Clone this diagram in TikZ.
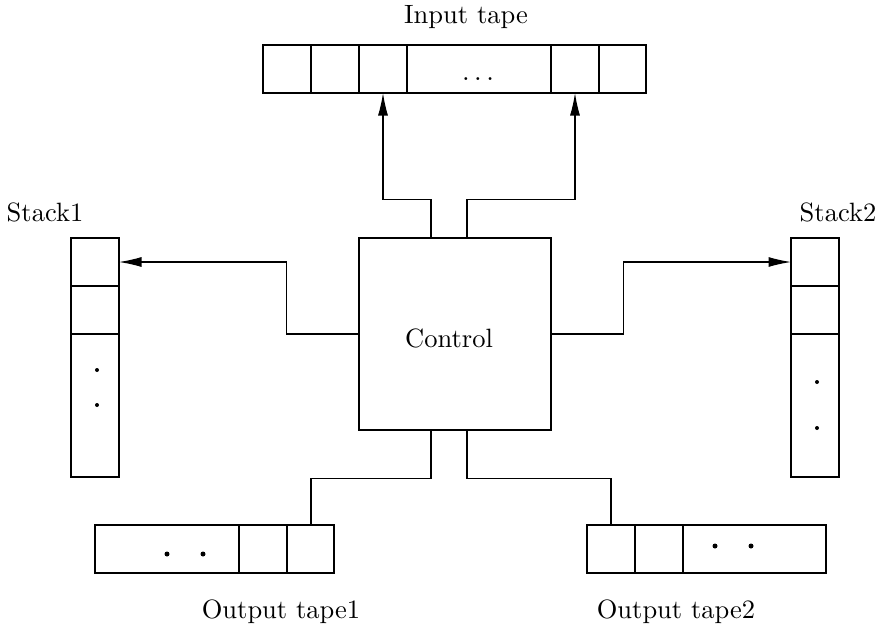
\documentclass[tikz,border=0pt]{standalone}
\usetikzlibrary{arrows.meta}
\begin{document}
\begin{tikzpicture}[x=0.4pt,y=-0.4pt,
  every node/.style={font=\fontsize{10.6}{13}\selectfont},
  box/.style={draw,line width=0.45pt,inner sep=0pt,rectangle},
  wire/.style={draw,line width=0.45pt},
  arr/.style={wire,-{Latex[length=9pt,width=4pt]}},
  dot/.style={fill,circle,inner sep=0pt,minimum size=1.6pt},
  lbl/.style={inner sep=0pt}]
\useasboundingbox (0,0) rectangle (880,634);

% control unit
\node[box,minimum width=76.8pt,minimum height=76.8pt] (ctl) at (455,334) {};
\node[lbl] (ctltxt) at (449,338) {Control};

% input tape
\node[box,minimum width=153.2pt,minimum height=19.2pt] (in) at (454.5,69) {};
\foreach \x in {311,359,407,551,599} \draw[line width=0.45pt] (\x,45) -- (\x,93);
\node[lbl] (indots) at (478,79) {$\ldots$};
\node[lbl] (intxt) at (466,17) {Input tape};
\coordinate (inA) at (383,93);
\coordinate (inB) at (575,93);

% stack 1
\node[box,minimum width=19.2pt,minimum height=95.6pt] (s1) at (95,357.5) {};
\foreach \y in {286,334} \draw[line width=0.45pt] (71,\y) -- (119,\y);
\node[dot] (s1d1) at (97,370) {};
\node[dot] (s1d2) at (97,405) {};
\node[lbl] (s1txt) at (45,212) {Stack1};
\coordinate (s1A) at (119,262);

% stack 2
\node[box,minimum width=19.2pt,minimum height=95.6pt] (s2) at (815,357.5) {};
\foreach \y in {286,334} \draw[line width=0.45pt] (791,\y) -- (839,\y);
\node[dot] (s2d1) at (817,382) {};
\node[dot] (s2d2) at (817,428) {};
\node[lbl] (s2txt) at (838,212) {Stack2};
\coordinate (s2A) at (791,262);

% output tape 1
\node[box,minimum width=95.6pt,minimum height=19.2pt] (o1) at (214.5,549) {};
\foreach \x in {239,287} \draw[line width=0.45pt] (\x,525) -- (\x,573);
\node[dot,minimum size=2pt] (o1d1) at (167,554) {};
\node[dot,minimum size=2pt] (o1d2) at (203,554) {};
\node[lbl] (o1txt) at (281,612) {Output tape1};
\coordinate (o1A) at (311,525);

% output tape 2
\node[box,minimum width=95.6pt,minimum height=19.2pt] (o2) at (706.5,549) {};
\foreach \x in {635,683} \draw[line width=0.45pt] (\x,525) -- (\x,573);
\node[dot,minimum size=2pt] (o2d1) at (715,546) {};
\node[dot,minimum size=2pt] (o2d2) at (751,546) {};
\node[lbl] (o2txt) at (676,612) {Output tape2};
\coordinate (o2A) at (611,525);

% connections
\draw[arr] ([xshift=-9.6pt]ctl.north) -- ++(0,-38) -| (inA);
\draw[arr] ([xshift=4.8pt]ctl.north) -- ++(0,-38) -| (inB);
\draw[arr] (ctl.west) -- ++(-72,0) |- (s1A);
\draw[arr] (ctl.east) -- ++(72,0) |- (s2A);
\draw[wire] ([xshift=-9.6pt]ctl.south) -- ++(0,48) -| (o1A);
\draw[wire] ([xshift=4.8pt]ctl.south) -- ++(0,48) -| (o2A);
\end{tikzpicture}
\end{document}
